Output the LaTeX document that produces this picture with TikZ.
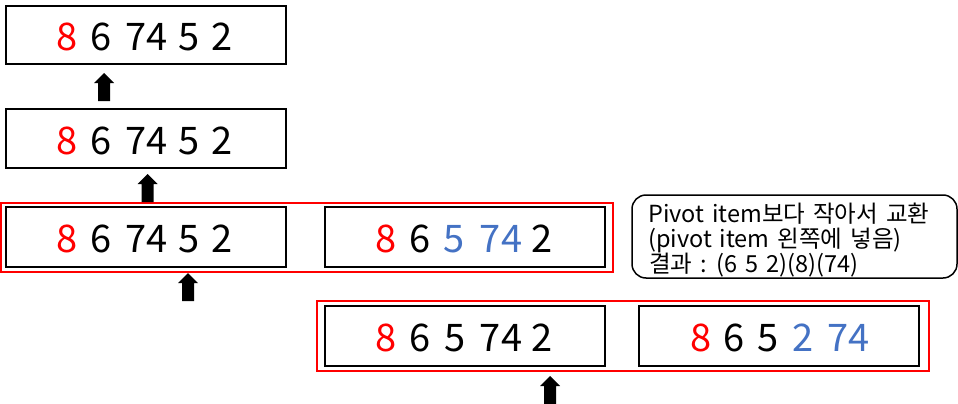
\documentclass[tikz,border=0pt]{standalone}
\usepackage{fontspec}
\setmainfont{Noto Sans CJK KR}
\newfontfamily\krfont{Noto Sans CJK KR}
\newcommand\notespacing{\spaceskip=0.34em\relax}
\definecolor{pivotred}{RGB}{255,0,0}
\definecolor{movedblue}{RGB}{68,114,196}
\begin{document}
\begin{tikzpicture}[x=1pt,y=-1pt,
  stepbox/.style={draw=black,line width=2pt},
  groupbox/.style={draw=pivotred,line width=2pt},
  noteframe/.style={draw=black,line width=1.5pt,rounded corners=14pt},
  dig/.style={anchor=base,inner sep=0pt,font=\krfont\fontsize{38}{40}\selectfont},
  red/.style={text=pivotred},
  blue/.style={text=movedblue},
  note/.style={anchor=base west,inner sep=0pt,font=\krfont\fontsize{23.5}{25}\selectfont},
  blockarrow/.pic={\fill[black] (0,0) -- (10,10) -- (6,10) -- (6,28) -- (-6,28) -- (-6,10) -- (-10,10) -- cycle;}
]
\useasboundingbox (0,0) rectangle (958,404);
\fill[white] (0,0) rectangle (958,404);

% boxes
\draw[stepbox] (6,6) rectangle (286,64);
\coordinate (b1) at (6,6);
\draw[stepbox] (6,109) rectangle (286,168);
\coordinate (b2) at (6,109);
\draw[groupbox] (1,203) rectangle (613,272);
\draw[stepbox] (6,207) rectangle (286,267);
\coordinate (b3) at (6,207);
\draw[stepbox] (325,207) rectangle (605,267);
\coordinate (b4) at (325,207);
\draw[groupbox] (317,301) rectangle (929,371);
\draw[stepbox] (325,306) rectangle (605,366);
\coordinate (b5) at (325,306);
\draw[stepbox] (639,306) rectangle (919,366);
\coordinate (b6) at (639,306);

% digits: box 1, 2, 3  (8 6 74 5 2)
\foreach \yy/\nm in {51/a,154/b,252/c}{
  \node[dig,red] (\nm1) at (67.5,\yy) {8};
  \node[dig] (\nm2) at (101,\yy) {6};
  \node[dig] (\nm3) at (146.5,\yy) {74};
  \node[dig] (\nm4) at (189,\yy) {5};
  \node[dig] (\nm5) at (222,\yy) {2};
}
% box 4 (8 6 5 74 2)
\node[dig,red] (d1) at (386.5,252) {8};
\node[dig] (d2) at (420,252) {6};
\node[dig,blue] (d3) at (454.5,252) {5};
\node[dig,blue] (d4) at (501,252) {74};
\node[dig] (d5) at (542,252) {2};
% box 5 (8 6 5 74 2)
\node[dig,red] (e1) at (386.5,351) {8};
\node[dig] (e2) at (420,351) {6};
\node[dig] (e3) at (455,351) {5};
\node[dig] (e4) at (501,351) {74};
\node[dig] (e5) at (542,351) {2};
% box 6 (8 6 5 2 74)
\node[dig,red] (f1) at (701,351) {8};
\node[dig] (f2) at (734.5,351) {6};
\node[dig] (f3) at (768.5,351) {5};
\node[dig,blue] (f4) at (803,351) {2};
\node[dig,blue] (f5) at (848.5,351) {74};

% arrows
\pic at (104,73) {blockarrow};
\pic at (147.5,174) {blockarrow};
\pic at (188,273) {blockarrow};
\pic at (550,376) {blockarrow};

% note
\draw[noteframe] (632,195) rectangle (957,278);
\node[note] (n1) at (648,222) {\notespacing Pivot item보다 작아서 교환};
\node[note] (n2) at (648,247) {\notespacing (pivot item 왼쪽에 넣음)};
\node[note] (n3) at (649,272) {\notespacing 결과 : (6 5 2)(8)(74)};
\end{tikzpicture}
\end{document}
